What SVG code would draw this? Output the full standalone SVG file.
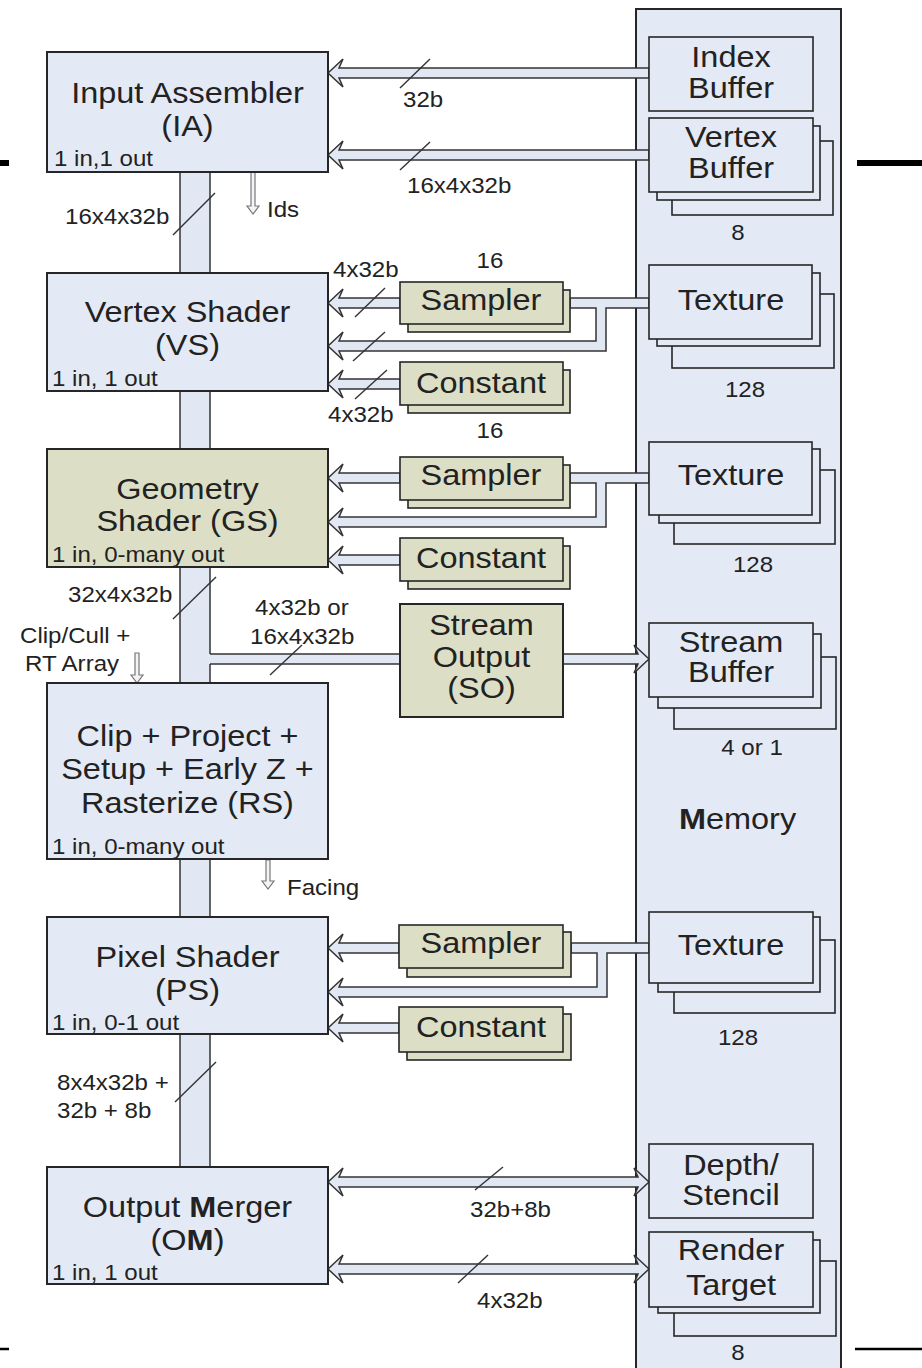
<svg xmlns="http://www.w3.org/2000/svg" width="922" height="1368" viewBox="0 0 922 1368">
<style>
.box{fill:#e4eaf5;stroke:#262626;stroke-width:2}
.obox{fill:#dcdfc6;stroke:#262626;stroke-width:2}
.sub{fill:#e4eaf5;stroke:#262626;stroke-width:1.6}
.osub{fill:#dcdfc6;stroke:#262626;stroke-width:1.6}
.bus{fill:#e1e8f4;stroke:#333;stroke-width:1.5;stroke-linejoin:miter}
.edge{fill:none;stroke:#333;stroke-width:1.5}
.busfill{fill:#e1e8f4;stroke:none}
.slash{stroke:#333;stroke-width:1.4}
.thin{fill:#f2f4f8;stroke:#777;stroke-width:1.2}
text{font-family:"Liberation Sans",Arial,Helvetica,sans-serif;fill:#222}
.t{font-size:29px;text-anchor:middle}
.l{font-size:21.5px}
.c{font-size:21.5px;text-anchor:middle}
.b{font-weight:bold}
</style>

<!-- page rules at the margins -->
<g id="rules" stroke="#000">
  <line x1="0" y1="163" x2="9" y2="163" stroke-width="6"/>
  <line x1="857" y1="163" x2="922" y2="163" stroke-width="6"/>
  <line x1="0" y1="1349" x2="9" y2="1349" stroke-width="2.5"/>
  <line x1="855" y1="1349" x2="922" y2="1349" stroke-width="2.5"/>
</g>

<!-- memory column -->
<g id="memory">
  <rect class="box" x="636" y="9" width="205" height="1370"/>
  <text class="t" transform="translate(737.5 829) scale(1.12 1)"><tspan class="b">M</tspan>emory</text>
</g>

<!-- buses and arrows -->
<g id="connectors">
  <!-- main pipeline bus -->
  <rect class="busfill" x="180" y="172" width="30" height="995"/>
  <path class="edge" d="M180 172V1167M210 172V654M210 664V1167"/>
  <!-- GS to stream output -->
  <rect class="busfill" x="209" y="654" width="191" height="10"/>
  <path class="edge" d="M210 654H400M210 664H400"/>
  <polygon class="bus" points="563,654 638,654 634,645 649,659 634,673 638,664 563,664"/>

  <!-- IA inputs -->
  <polygon class="bus" points="328,73 343,59 339,68 649,68 649,78 339,78 343,87"/>
  <polygon class="bus" points="328,155 343,141 339,150 649,150 649,160 339,160 343,169"/>

  <!-- VS inputs -->
  <polygon class="bus" points="328,303 343,289 339,298 400,298 400,308 339,308 343,317"/>
  <polygon class="bus" points="649,298 570,298 570,308 596,308 596,341 339,341 343,332 328,346 343,360 339,351 606,351 606,308 649,308"/>
  <polygon class="bus" points="328,384 343,370 339,379 400,379 400,389 339,389 343,398"/>

  <!-- GS inputs -->
  <polygon class="bus" points="328,478 343,464 339,473 400,473 400,483 339,483 343,492"/>
  <polygon class="bus" points="649,473 570,473 570,483 596,483 596,517 339,517 343,508 328,522 343,536 339,527 606,527 606,483 649,483"/>
  <polygon class="bus" points="328,560 343,546 339,555 400,555 400,565 339,565 343,574"/>

  <!-- PS inputs -->
  <polygon class="bus" points="328,948 343,934 339,943 399,943 399,953 339,953 343,962"/>
  <polygon class="bus" points="649,943 571,943 571,953 597,953 597,987 339,987 343,978 328,992 343,1006 339,997 607,997 607,953 649,953"/>
  <polygon class="bus" points="328,1028 343,1014 339,1023 399,1023 399,1033 339,1033 343,1042"/>

  <!-- OM read/write -->
  <polygon class="bus" points="328,1182 343,1168 339,1177 638,1177 634,1168 649,1182 634,1196 638,1187 339,1187 343,1196"/>
  <polygon class="bus" points="328,1269 343,1255 339,1264 638,1264 634,1255 649,1269 634,1283 638,1274 339,1274 343,1283"/>

  <!-- side-band signals -->
  <polygon class="thin" points="251,172 251,206 247,206 253,214 259,206 255,206 255,172"/>
  <polygon class="thin" points="135,653 135,675 131,675 137,683 143,675 139,675 139,653"/>
  <polygon class="thin" points="266,860 266,881 262,881 268,889 274,881 270,881 270,860"/>

  <!-- bus width ticks -->
  <g class="slash">
    <line x1="400" y1="88" x2="430" y2="59"/>
    <line x1="400" y1="170" x2="430" y2="142"/>
    <line x1="173" y1="235" x2="215" y2="193"/>
    <line x1="355" y1="317" x2="385" y2="288"/>
    <line x1="353" y1="361" x2="385" y2="332"/>
    <line x1="355" y1="399" x2="387" y2="370"/>
    <line x1="173" y1="619" x2="216" y2="577"/>
    <line x1="270" y1="675" x2="302" y2="645"/>
    <line x1="175" y1="1102" x2="216" y2="1062"/>
    <line x1="475" y1="1190" x2="503" y2="1167"/>
    <line x1="458" y1="1283" x2="488" y2="1255"/>
  </g>

  <!-- bus labels -->
  <text class="l" transform="translate(403 107) scale(1.12 1)">32b</text>
  <text class="l" transform="translate(407 193) scale(1.12 1)">16x4x32b</text>
  <text class="l" transform="translate(65 224) scale(1.12 1)">16x4x32b</text>
  <text class="l" transform="translate(267 217) scale(1.12 1)">Ids</text>
  <text class="l" transform="translate(333 277) scale(1.12 1)">4x32b</text>
  <text class="l" transform="translate(328 422) scale(1.12 1)">4x32b</text>
  <text class="l" transform="translate(68 602) scale(1.12 1)">32x4x32b</text>
  <text class="l" transform="translate(255 615) scale(1.12 1)">4x32b or</text>
  <text class="l" transform="translate(250 644) scale(1.12 1)">16x4x32b</text>
  <text class="l" transform="translate(20 643) scale(1.12 1)">Clip/Cull +</text>
  <text class="l" transform="translate(25 671) scale(1.12 1)">RT Array</text>
  <text class="l" transform="translate(287 895) scale(1.12 1)">Facing</text>
  <text class="l" transform="translate(57 1090) scale(1.12 1)">8x4x32b +</text>
  <text class="l" transform="translate(57 1118) scale(1.12 1)">32b + 8b</text>
  <text class="l" transform="translate(470 1217) scale(1.12 1)">32b+8b</text>
  <text class="l" transform="translate(477 1308) scale(1.12 1)">4x32b</text>
</g>

<!-- pipeline stages -->
<g id="ia">
  <rect class="box" x="47" y="52" width="281" height="120"/>
  <text class="t" transform="translate(187.5 103) scale(1.12 1)">Input Assembler</text>
  <text class="t" transform="translate(187.5 136) scale(1.12 1)">(IA)</text>
  <text class="l" transform="translate(54 166) scale(1.12 1)">1 in,1 out</text>
</g>
<g id="vs">
  <rect class="box" x="47" y="273" width="281" height="118"/>
  <text class="t" transform="translate(187.5 322) scale(1.12 1)">Vertex Shader</text>
  <text class="t" transform="translate(187.5 355) scale(1.12 1)">(VS)</text>
  <text class="l" transform="translate(52 386) scale(1.12 1)">1 in, 1 out</text>
</g>
<g id="gs">
  <rect class="obox" x="47" y="449" width="281" height="118"/>
  <text class="t" transform="translate(187.5 499) scale(1.12 1)">Geometry</text>
  <text class="t" transform="translate(187.5 531) scale(1.12 1)">Shader (GS)</text>
  <text class="l" transform="translate(52 562) scale(1.12 1)">1 in, 0-many out</text>
</g>
<g id="rs">
  <rect class="box" x="47" y="683" width="281" height="176"/>
  <text class="t" transform="translate(187.5 746) scale(1.12 1)">Clip + Project +</text>
  <text class="t" transform="translate(187.5 779) scale(1.12 1)">Setup + Early Z +</text>
  <text class="t" transform="translate(187.5 813) scale(1.12 1)">Rasterize (RS)</text>
  <text class="l" transform="translate(52 854) scale(1.12 1)">1 in, 0-many out</text>
</g>
<g id="ps">
  <rect class="box" x="47" y="917" width="281" height="117"/>
  <text class="t" transform="translate(187.5 967) scale(1.12 1)">Pixel Shader</text>
  <text class="t" transform="translate(187.5 1000) scale(1.12 1)">(PS)</text>
  <text class="l" transform="translate(52 1030) scale(1.12 1)">1 in, 0-1 out</text>
</g>
<g id="om">
  <rect class="box" x="47" y="1167" width="281" height="117"/>
  <text class="t" transform="translate(187.5 1217) scale(1.12 1)">Output <tspan class="b">M</tspan>erger</text>
  <text class="t" transform="translate(187.5 1250) scale(1.12 1)">(O<tspan class="b">M</tspan>)</text>
  <text class="l" transform="translate(52 1280) scale(1.12 1)">1 in, 1 out</text>
</g>
<g id="so">
  <rect class="obox" x="400" y="604" width="163" height="113"/>
  <text class="t" transform="translate(481.5 635) scale(1.12 1)">Stream</text>
  <text class="t" transform="translate(481.5 667) scale(1.12 1)">Output</text>
  <text class="t" transform="translate(481.5 698) scale(1.12 1)">(SO)</text>
</g>

<!-- shader resources -->
<g id="vs-sampler">
  <rect class="osub" x="408" y="290" width="162" height="42"/>
  <rect class="osub" x="400" y="282" width="163" height="42"/>
  <text class="t" transform="translate(481 310) scale(1.12 1)">Sampler</text>
  <text class="c" transform="translate(490 268) scale(1.12 1)">16</text>
</g>
<g id="vs-constant">
  <rect class="osub" x="408" y="370" width="162" height="43"/>
  <rect class="osub" x="400" y="362" width="163" height="43"/>
  <text class="t" transform="translate(481 393) scale(1.12 1)">Constant</text>
  <text class="c" transform="translate(490 438) scale(1.12 1)">16</text>
</g>
<g id="gs-sampler">
  <rect class="osub" x="408" y="465" width="162" height="43"/>
  <rect class="osub" x="400" y="457" width="163" height="43"/>
  <text class="t" transform="translate(481 485) scale(1.12 1)">Sampler</text>
</g>
<g id="gs-constant">
  <rect class="osub" x="408" y="546" width="162" height="43"/>
  <rect class="osub" x="400" y="538" width="163" height="43"/>
  <text class="t" transform="translate(481 568) scale(1.12 1)">Constant</text>
</g>
<g id="ps-sampler">
  <rect class="osub" x="407" y="932" width="164" height="45"/>
  <rect class="osub" x="399" y="925" width="164" height="43"/>
  <text class="t" transform="translate(481 953) scale(1.12 1)">Sampler</text>
</g>
<g id="ps-constant">
  <rect class="osub" x="407" y="1014" width="164" height="46"/>
  <rect class="osub" x="399" y="1007" width="164" height="45"/>
  <text class="t" transform="translate(481 1037) scale(1.12 1)">Constant</text>
</g>

<!-- memory resources -->
<g id="index-buffer">
  <rect class="sub" x="649" y="37" width="164" height="74"/>
  <text class="t" transform="translate(731 67) scale(1.12 1)">Index</text>
  <text class="t" transform="translate(731 98) scale(1.12 1)">Buffer</text>
</g>
<g id="vertex-buffer">
  <rect class="sub" x="672" y="141" width="161" height="74"/>
  <rect class="sub" x="657" y="126" width="163" height="74"/>
  <rect class="sub" x="649" y="118" width="164" height="74"/>
  <text class="t" transform="translate(731 147) scale(1.12 1)">Vertex</text>
  <text class="t" transform="translate(731 178) scale(1.12 1)">Buffer</text>
  <text class="c" transform="translate(738 240) scale(1.12 1)">8</text>
</g>
<g id="vs-texture">
  <rect class="sub" x="672" y="294" width="162" height="74"/>
  <rect class="sub" x="657" y="273" width="163" height="73"/>
  <rect class="sub" x="649" y="265" width="163" height="74"/>
  <text class="t" transform="translate(731 310) scale(1.12 1)">Texture</text>
  <text class="c" transform="translate(745 397) scale(1.12 1)">128</text>
</g>
<g id="gs-texture">
  <rect class="sub" x="674" y="470" width="161" height="74"/>
  <rect class="sub" x="659" y="449" width="161" height="74"/>
  <rect class="sub" x="649" y="442" width="163" height="73"/>
  <text class="t" transform="translate(731 485) scale(1.12 1)">Texture</text>
  <text class="c" transform="translate(753 572) scale(1.12 1)">128</text>
</g>
<g id="stream-buffer">
  <rect class="sub" x="674" y="657" width="162" height="72"/>
  <rect class="sub" x="658" y="634" width="163" height="74"/>
  <rect class="sub" x="649" y="623" width="164" height="74"/>
  <text class="t" transform="translate(731 652) scale(1.12 1)">Stream</text>
  <text class="t" transform="translate(731 682) scale(1.12 1)">Buffer</text>
  <text class="c" transform="translate(752 755) scale(1.12 1)">4 or 1</text>
</g>
<g id="ps-texture">
  <rect class="sub" x="674" y="940" width="161" height="73"/>
  <rect class="sub" x="658" y="917" width="162" height="75"/>
  <rect class="sub" x="649" y="912" width="164" height="71"/>
  <text class="t" transform="translate(731 955) scale(1.12 1)">Texture</text>
  <text class="c" transform="translate(738 1045) scale(1.12 1)">128</text>
</g>
<g id="depth-stencil">
  <rect class="sub" x="649" y="1144" width="164" height="74"/>
  <text class="t" transform="translate(731 1175) scale(1.12 1)">Depth/</text>
  <text class="t" transform="translate(731 1205) scale(1.12 1)">Stencil</text>
</g>
<g id="render-target">
  <rect class="sub" x="674" y="1261" width="162" height="75"/>
  <rect class="sub" x="658" y="1240" width="162" height="73"/>
  <rect class="sub" x="649" y="1232" width="164" height="75"/>
  <text class="t" transform="translate(731 1260) scale(1.12 1)">Render</text>
  <text class="t" transform="translate(731 1295) scale(1.12 1)">Target</text>
  <text class="c" transform="translate(738 1360) scale(1.12 1)">8</text>
</g>
</svg>
